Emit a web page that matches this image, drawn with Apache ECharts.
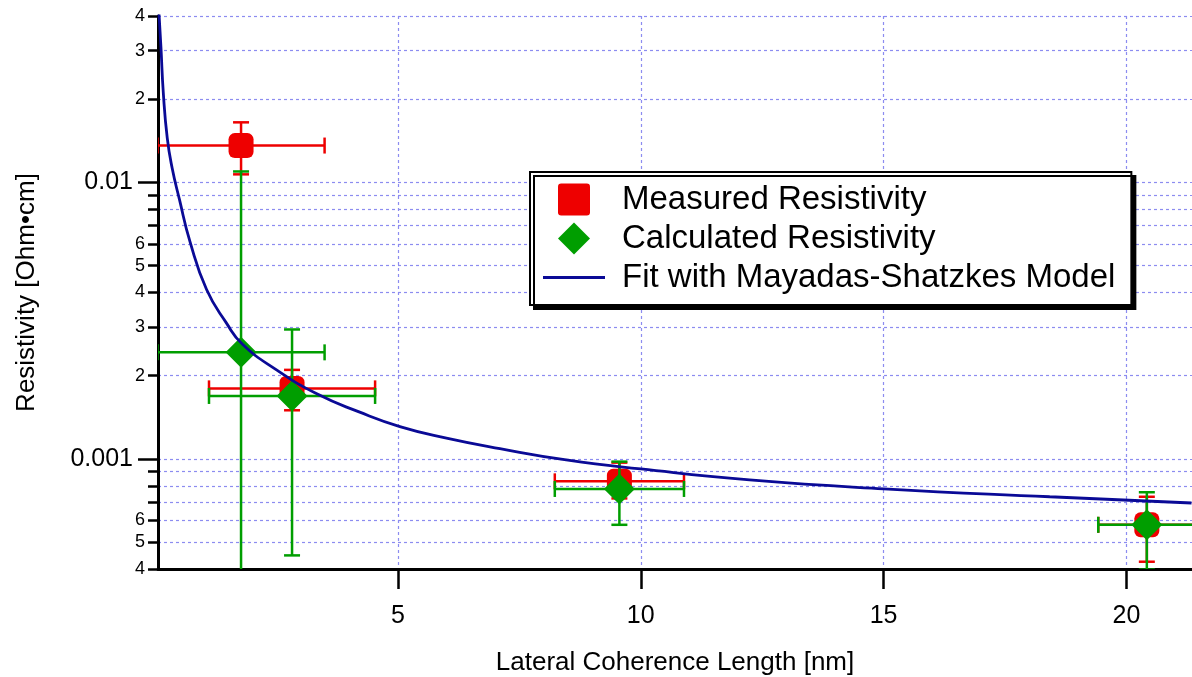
<!DOCTYPE html>
<html>
<head>
<meta charset="utf-8">
<script src="https://cdn.jsdelivr.net/npm/echarts@6/dist/echarts.min.js"></script>
<style>
  html, body { margin: 0; padding: 0; background: #fff; }
  #chart { width: 1192px; height: 677px; }
</style>
</head>
<body>
<div id="chart"></div>
<script>
// data
var measX = [1.77, 2.82, 9.56, 20.42];
var measY = [0.0136, 0.00180, 0.00083, 0.000578];
var measXErr = [1.72, 1.71, 1.33, 1.0];
var measYLo = [0.0107, 0.00150, 0.00072, 0.000425];
var measYHi = [0.0165, 0.00210, 0.00097, 0.00073];

var calcX = [1.77, 2.82, 9.56, 20.42];
var calcY = [0.00243, 0.00169, 0.000779, 0.000578];
var calcXErr = [1.72, 1.71, 1.33, 1.0];
var calcYLo = [0.0003, 0.000448, 0.000578, 0.000398];
var calcYHi = [0.01096, 0.00294, 0.000978, 0.000758];

var fitX = [0.08, 0.12, 0.17, 0.25, 0.35, 0.5, 0.72, 1.06, 1.47, 1.8, 2.5, 3.33, 4.2, 5.04, 6, 7.1, 8.5, 10, 12.24, 15, 18.42, 21.34];
var fitY = [0.041, 0.031, 0.021, 0.0145, 0.0113, 0.0087, 0.0061, 0.0041, 0.0031, 0.0026, 0.0021, 0.00172, 0.00148, 0.00131, 0.00119, 0.00109, 0.00099, 0.00092, 0.00084, 0.00078, 0.00073, 0.000693];

var xTicks = [5, 10, 15, 20];
var yTicks = [0.0004, 0.0005, 0.0006, 0.0007, 0.0008, 0.0009, 0.001, 0.002, 0.003, 0.004, 0.005, 0.006, 0.007, 0.008, 0.009, 0.01, 0.02, 0.03, 0.04];
var yMinorVals = [0.0004, 0.0005, 0.0006, 0.002, 0.003, 0.004, 0.005, 0.006, 0.02, 0.03, 0.04];
var yMinorText = ['4', '5', '6', '2', '3', '4', '5', '6', '2', '3', '4'];
var yMajorVals = [0.001, 0.01];
var yMajorText = ['0.001', '0.01'];

var names = ['Measured Resistivity', 'Calculated Resistivity', 'Fit with Mayadas-Shatzkes Model'];

var font = 'Liberation Sans, Arial, sans-serif';
var red = '#ee0000';
var green = '#009e00';
var navy = '#0a0a96';
var gridCol = '#8c8cf0';

function lookup(vals, texts) {
    return function(v) {
        for (var i = 0; i < vals.length; i++) {
            if (Math.abs(Math.log10(v / vals[i])) < 0.01) return texts[i];
        }
        return '';
    };
}

function errData(xs, ys, xerr, lo, hi) {
    return xs.map(function(x, i) { return [x, ys[i], x - xerr[i], x + xerr[i], lo[i], hi[i]]; });
}

function errRender(color) {
    return function(params, api) {
        var c = api.coord([api.value(0), api.value(1)]);
        var xl = api.coord([api.value(2), api.value(1)]);
        var xr = api.coord([api.value(3), api.value(1)]);
        var yl = api.coord([api.value(0), api.value(4)]);
        var yh = api.coord([api.value(0), api.value(5)]);
        var cap = 8;
        var st = { stroke: color, lineWidth: 2.5 };
        var lines = [
            [xl[0], c[1], xr[0], c[1]],
            [xl[0], c[1] - cap, xl[0], c[1] + cap],
            [xr[0], c[1] - cap, xr[0], c[1] + cap],
            [c[0], yl[1], c[0], yh[1]],
            [c[0] - cap, yl[1], c[0] + cap, yl[1]],
            [c[0] - cap, yh[1], c[0] + cap, yh[1]]
        ];
        return {
            type: 'group',
            children: lines.map(function(l) {
                return { type: 'line', shape: { x1: l[0], y1: l[1], x2: l[2], y2: l[3] }, style: st };
            })
        };
    };
}

var chart = echarts.init(document.getElementById('chart'), null, { renderer: 'canvas' });
chart.setOption({
    animation: false,
    backgroundColor: '#fff',
    textStyle: { fontFamily: font },
    grid: { left: 158, right: 0, top: 16, bottom: 108, containLabel: false, outerBoundsMode: 'none' },
    legend: {
        orient: 'vertical',
        left: 530,
        top: 172,
        data: [
            { name: names[0], icon: 'path://M3,0 H27 Q30,0 30,3 V27 Q30,30 27,30 H3 Q0,30 0,27 V3 Q0,0 3,0 Z' },
            { name: names[1], icon: 'path://M18,0 L36,18 L18,36 L0,18 Z' },
            { name: names[2], icon: 'path://M0,0 H62 V3 H0 Z' }
        ],
        symbolKeepAspect: true,
        itemWidth: 62,
        itemHeight: 32,
        itemGap: 6,
        padding: [11, 16, 11, 13],
        backgroundColor: '#fff',
        borderColor: '#000',
        borderWidth: 2,
        borderRadius: 0,
        shadowColor: '#000',
        shadowBlur: 0,
        shadowOffsetX: 4,
        shadowOffsetY: 4,
        textStyle: { color: '#000', fontSize: 33, lineHeight: 32, padding: [0, 0, 0, 12], fontFamily: font }
    },
    xAxis: {
        type: 'value',
        min: 0.06,
        max: 21.35,
        name: 'Lateral Coherence Length [nm]',
        nameLocation: 'middle',
        nameGap: 81,
        nameTextStyle: { fontSize: 26, color: '#000', fontFamily: font },
        axisLine: { onZero: false, lineStyle: { color: '#000', width: 3 } },
        axisTick: { customValues: xTicks, length: 20, lineStyle: { color: '#000', width: 2.5 } },
        axisLabel: { customValues: xTicks, fontSize: 25, color: '#000', margin: 35 },
        splitLine: { show: true, lineStyle: { color: gridCol, width: 1.2, type: [3, 3] } }
    },
    yAxis: [{
        type: 'log',
        logBase: 10,
        position: 'left',
        min: 0.0004,
        max: 0.04,
        axisLine: { show: true, lineStyle: { color: '#000', width: 3 } },
        axisTick: { customValues: yTicks, length: 10, lineStyle: { color: '#000', width: 2.5 } },
        axisLabel: { customValues: yMinorVals, fontSize: 18, color: '#000', margin: 13, formatter: lookup(yMinorVals, yMinorText) },
        splitLine: { show: true, lineStyle: { color: gridCol, width: 1.2, type: [3, 3] } }
    }, {
        type: 'log',
        logBase: 10,
        position: 'left',
        offset: 0,
        min: 0.0004,
        max: 0.04,
        name: 'Resistivity [Ohm•cm]',
        nameLocation: 'middle',
        nameGap: 118,
        nameTextStyle: { fontSize: 26, color: '#000', fontFamily: font },
        axisLine: { show: false },
        axisTick: { customValues: yMajorVals, length: 20, lineStyle: { color: '#000', width: 2.5 } },
        axisLabel: { customValues: yMajorVals, fontSize: 25, color: '#000', margin: 25, formatter: lookup(yMajorVals, yMajorText) },
        splitLine: { show: false }
    }],
    series: [{
        type: 'custom',
        name: names[0] + ' err',
        clip: true,
        z: 2,
        renderItem: errRender(red),
        data: errData(measX, measY, measXErr, measYLo, measYHi),
        encode: { x: 0, y: 1 }
    }, {
        type: 'scatter',
        name: names[0],
        symbol: 'roundRect',
        symbolSize: 25,
        z: 3,
        itemStyle: { color: red, opacity: 1 },
        data: measX.map(function(x, i) { return [x, measY[i]]; })
    }, {
        type: 'custom',
        name: names[1] + ' err',
        clip: true,
        z: 4,
        renderItem: errRender(green),
        data: errData(calcX, calcY, calcXErr, calcYLo, calcYHi),
        encode: { x: 0, y: 1 }
    }, {
        type: 'scatter',
        name: names[1],
        symbol: 'diamond',
        symbolSize: [31, 31],
        z: 5,
        itemStyle: { color: green, opacity: 1 },
        data: calcX.map(function(x, i) { return [x, calcY[i]]; })
    }, {
        type: 'line',
        name: names[2],
        smooth: true,
        showSymbol: false,
        symbol: 'none',
        z: 6,
        lineStyle: { color: navy, width: 2.8 },
        itemStyle: { color: navy },
        data: fitX.map(function(x, i) { return [x, fitY[i]]; })
    }]
});
window.addEventListener('resize', function() { chart.resize(); });
</script>
</body>
</html>
